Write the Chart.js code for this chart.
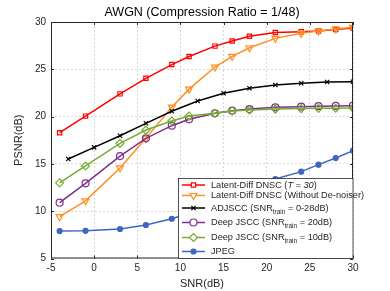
<!DOCTYPE html>
<html>
<head>
<meta charset="utf-8">
<script src="https://cdn.jsdelivr.net/npm/chart.js@4/dist/chart.umd.min.js"></script>
<style>
  html, body { margin: 0; padding: 0; background: #fff; }
  #wrap { width: 390px; height: 291px; }
</style>
</head>
<body>
<div id="wrap"><canvas id="c" width="390" height="291"></canvas></div>
<script>
// x positions (SNR, dB)
const snrMain = [-4, -1, 3, 6, 9, 11, 14, 16, 18, 21, 24, 26, 28, 30];
const snrAdj = [-3, 0, 3, 6, 9, 12, 15, 18, 21, 24, 27, 30];

// PSNR values
const dnscT30 = [18.3, 20.05, 22.4, 24.05, 25.5, 26.35, 27.45, 28.0, 28.5, 28.9, 28.97, 29.05, 29.2, 29.37];
const dnscNoDen = [9.42, 11.1, 14.57, 17.7, 21.0, 22.9, 25.24, 26.37, 27.28, 28.27, 28.8, 29.05, 29.26, 29.44];
const adjscc = [15.52, 16.75, 17.98, 19.29, 20.56, 21.65, 22.46, 23.0, 23.34, 23.52, 23.66, 23.69];
const jscc20 = [10.9, 12.95, 15.83, 17.7, 19.04, 19.71, 20.35, 20.63, 20.8, 20.98, 21.05, 21.1, 21.13, 21.15];
const jscc10 = [13.0, 14.78, 17.18, 18.58, 19.53, 20.06, 20.35, 20.6, 20.7, 20.8, 20.85, 20.87, 20.88, 20.9];
const jpeg = [7.9, 7.93, 8.12, 8.54, 9.2, 9.8, 10.9, 11.7, 12.5, 13.4, 14.18, 14.92, 15.62, 16.4];

const xTicks = [-5, 0, 5, 10, 15, 20, 25, 30];
const yTicks = [5, 10, 15, 20, 25, 30];

const FONT = "'Liberation Sans', Arial, Helvetica, sans-serif";
const AX = '#262626';

function pts(xs, ys) {
    return ys.map((y, i) => ({ x: xs[i], y: y }));
}

// legend rows: text parts, [text, 'sub'|'it'|null]
const legendRows = [
    { color: '#ff0000', style: 'rect', r: 3, rot: 0, fill: false, parts: [['Latent-Diff DNSC (', null], ['T = 30', 'it'], [')', null]] },
    { color: '#ff8f1f', style: 'triangle', r: 4, rot: 180, fill: false, parts: [['Latent-Diff DNSC (Without De-noiser)', null]] },
    { color: '#000000', style: 'crossRot', r: 3, rot: 0, fill: false, parts: [['ADJSCC (SNR', null], ['train', 'sub'], [' = 0-28dB)', null]] },
    { color: '#7e2f8e', style: 'circle', r: 3.5, rot: 0, fill: false, parts: [['Deep JSCC (SNR', null], ['train', 'sub'], [' = 20dB)', null]] },
    { color: '#77ac30', style: 'rectRot', r: 4, rot: 0, fill: false, parts: [['Deep JSCC (SNR', null], ['train', 'sub'], [' = 10dB)', null]] },
    { color: '#3f66c1', style: 'circle', r: 2.5, rot: 0, fill: true, parts: [['JPEG', null]] }
];
const legendRowY = [185, 195.5, 208, 222.5, 237.5, 251.5];

function marker(ctx, row, x, y) {
    ctx.save();
    ctx.strokeStyle = row.color;
    ctx.fillStyle = row.fill ? row.color : '#fff';
    ctx.lineWidth = 1.2;
    Chart.helpers.drawPoint(ctx, { pointStyle: row.style, radius: row.r, rotation: row.rot, borderWidth: 1.2 }, x, y);
    ctx.restore();
}

const framePlugin = {
    id: 'frame',
    afterDatasetsDraw(chart) {
        const ctx = chart.ctx;
        const a = chart.chartArea;
        const xs = chart.scales.x, ys = chart.scales.y;
        ctx.save();
        // box
        ctx.strokeStyle = AX;
        ctx.lineWidth = 1;
        ctx.strokeRect(a.left + 0.5, a.top + 0.5, a.right - a.left - 1, a.bottom - a.top - 1);
        // inner ticks
        ctx.beginPath();
        xTicks.forEach(v => {
            const p = Math.round(xs.getPixelForValue(v)) + 0.5;
            ctx.moveTo(p, a.bottom); ctx.lineTo(p, a.bottom - 3);
            ctx.moveTo(p, a.top); ctx.lineTo(p, a.top + 3);
        });
        yTicks.forEach(v => {
            const p = Math.round(ys.getPixelForValue(v)) + 0.5;
            ctx.moveTo(a.left, p); ctx.lineTo(a.left + 3, p);
            ctx.moveTo(a.right, p); ctx.lineTo(a.right - 3, p);
        });
        ctx.stroke();

        // legend box
        const lx = 178.5, ly = 178.5, lw = 174.5, lh = 80;
        ctx.fillStyle = '#fff';
        ctx.fillRect(lx, ly, lw, lh);
        ctx.strokeStyle = AX;
        ctx.lineWidth = 0.8;
        ctx.strokeRect(lx, ly, lw, lh);

        legendRows.forEach((row, i) => {
            const y = legendRowY[i];
            ctx.strokeStyle = row.color;
            ctx.lineWidth = 1.5;
            ctx.beginPath();
            ctx.moveTo(182, y); ctx.lineTo(205, y);
            ctx.stroke();
            marker(ctx, row, 193.5, y);
            let tx = 211;
            ctx.fillStyle = AX;
            ctx.textBaseline = 'middle';
            ctx.textAlign = 'left';
            row.parts.forEach(([t, kind]) => {
                if (kind === 'sub') {
                    ctx.font = '6.5px ' + FONT;
                    ctx.fillText(t, tx, y + 4);
                } else if (kind === 'it') {
                    ctx.font = 'italic 9.2px ' + FONT;
                    ctx.fillText(t, tx, y);
                } else {
                    ctx.font = '9.2px ' + FONT;
                    ctx.fillText(t, tx, y);
                }
                tx += ctx.measureText(t).width;
            });
        });

        // title
        ctx.fillStyle = '#000';
        ctx.font = '12.5px ' + FONT;
        ctx.textAlign = 'center';
        ctx.textBaseline = 'middle';
        ctx.fillText('AWGN (Compression Ratio = 1/48)', (a.left + a.right) / 2, 12.5);
        ctx.restore();
    }
};

function ds(label, xs, ys, color, style, r, rot, fill) {
    return {
        label: label,
        data: pts(xs, ys),
        borderColor: color,
        backgroundColor: color,
        borderWidth: 1.5,
        pointStyle: style,
        pointRadius: r,
        pointRotation: rot,
        pointBorderWidth: 1.2,
        pointBorderColor: color,
        pointBackgroundColor: fill ? color : 'rgba(255,255,255,0)',
        tension: 0,
        fill: false
    };
}

new Chart(document.getElementById('c'), {
    type: 'line',
    data: {
        datasets: [
            ds('JPEG', snrMain, jpeg, '#3f66c1', 'circle', 2.5, 0, true),
            ds('Deep JSCC (SNRtrain = 10dB)', snrMain, jscc10, '#77ac30', 'rectRot', 4, 0, false),
            ds('Deep JSCC (SNRtrain = 20dB)', snrMain, jscc20, '#7e2f8e', 'circle', 3.5, 0, false),
            ds('ADJSCC (SNRtrain = 0-28dB)', snrAdj, adjscc, '#000000', 'crossRot', 3, 0, false),
            ds('Latent-Diff DNSC (Without De-noiser)', snrMain, dnscNoDen, '#ff8f1f', 'triangle', 4, 180, false),
            ds('Latent-Diff DNSC (T = 30)', snrMain, dnscT30, '#ff0000', 'rect', 3, 0, false)
        ]
    },
    options: {
        responsive: false,
        animation: false,
        devicePixelRatio: 1,
        layout: { padding: { top: 22, right: 37, left: 0, bottom: 0 } },
        plugins: {
            legend: { display: false },
            title: { display: false },
            tooltip: { enabled: false }
        },
        scales: {
            x: {
                type: 'linear',
                min: -5, max: 30,
                afterBuildTicks: s => { s.ticks = xTicks.map(v => ({ value: v })); },
                afterFit: s => { s.height = 32.5; },
                ticks: { font: { size: 10, family: FONT }, color: AX, padding: 4, maxRotation: 0 },
                grid: { color: '#d6d6d6', drawTicks: false },
                border: { display: false, dash: [2, 2] },
                title: { display: true, text: 'SNR(dB)', color: AX, font: { size: 11, family: FONT }, padding: { top: 0, bottom: 0.5 } }
            },
            y: {
                type: 'linear',
                min: 5, max: 30,
                afterBuildTicks: s => { s.ticks = yTicks.map(v => ({ value: v })); },
                afterFit: s => { s.width = 51; },
                ticks: { font: { size: 10, family: FONT }, color: AX, padding: 5 },
                grid: { color: '#d6d6d6', drawTicks: false },
                border: { display: false, dash: [2, 2] },
                title: { display: true, text: 'PSNR(dB)', color: AX, font: { size: 11, family: FONT }, padding: { top: 12, bottom: 0 } }
            }
        }
    },
    plugins: [framePlugin]
});
</script>
</body>
</html>
